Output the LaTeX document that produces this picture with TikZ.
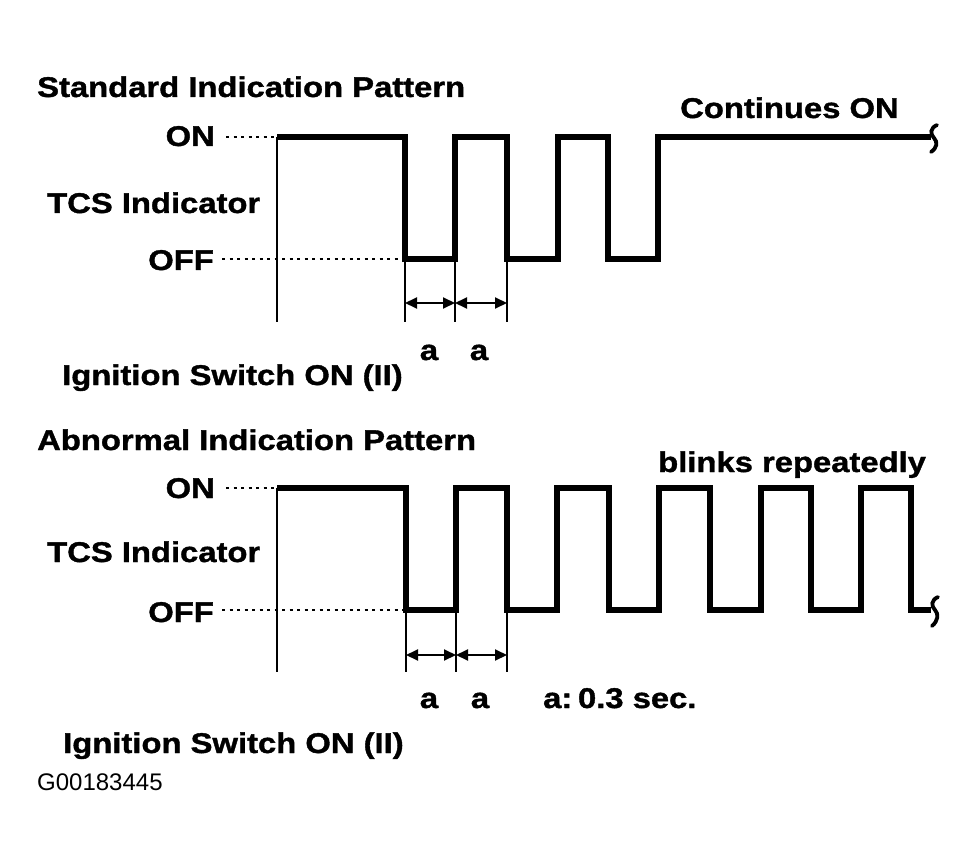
\documentclass[tikz,border=0pt]{standalone}
\usepackage{fontspec}
\setmainfont{Liberation Sans}[FakeStretch=1.15, BoldFeatures={FakeBold=1.3}]
\newfontfamily\codefont{Liberation Sans}
\usetikzlibrary{arrows.meta}
\tikzset{
  lbl/.style={inner sep=0pt, font=\fontsize{28.5}{30}\selectfont\bfseries},
  wave/.style={line width=5.2pt, line join=miter, line cap=butt},
  thin/.style={line width=1.7pt},
  dots/.style={line width=1.3pt, dash pattern=on 3pt off 4.5pt},
  dim/.style={line width=2pt, {Triangle[length=12pt,width=11pt]}-{Triangle[length=12pt,width=11pt]}},
  squig/.style={line width=3.8pt, line cap=round}
}
\begin{document}
\begin{tikzpicture}[x=1pt,y=-1pt]
\useasboundingbox (0,0) rectangle (979,866);
\fill[white] (0,0) rectangle (979,866);

% ---------- Top: Standard pattern ----------
\node[lbl, anchor=base west] (t1) at (37,97) {Standard Indication Pattern};
\node[lbl, anchor=base east] (on1) at (215,146) {ON};
\node[lbl, anchor=base west] (tcs1) at (47,213) {TCS Indicator};
\node[lbl, anchor=base east] (off1) at (214,270) {OFF};
\node[lbl, anchor=base west] (cont) at (680,118) {Continues ON};
\node[lbl, anchor=base] (a1) at (429,360) {a};
\node[lbl, anchor=base] (a2) at (479,360) {a};
\node[lbl, anchor=base west] (ig1) at (62,385) {Ignition Switch ON (II)};

\coordinate (s1) at (277,137);
\coordinate (e1) at (931,137);
\draw[dots] (226,137) -- (s1);
\draw[dots] (222,259) -- (405,259);
\draw[thin] (s1) -- (277,322);
\draw[thin] (405,259) -- (405,322);
\draw[thin] (455,259) -- (455,322);
\draw[thin] (507,259) -- (507,322);
\draw[wave] (s1) -- (405,137) -- (405,259) -- (455,259) -- (455,137) -- (507,137)
  -- (507,259) -- (558,259) -- (558,137) -- (608,137) -- (608,259) -- (658,259)
  -- (658,137) -- (e1);
\draw[squig] (937,125) .. controls (930,128) and (930,134) .. (934,138)
  .. controls (938,142) and (937,148) .. (931,152);
\coordinate (d1) at (405,303);
\coordinate (d2) at (455,303);
\coordinate (d3) at (507,303);
\draw[dim] (d1) -- (d2);
\draw[dim] (d2) -- (d3);

% ---------- Bottom: Abnormal pattern ----------
\node[lbl, anchor=base west] (t2) at (37,450) {Abnormal Indication Pattern};
\node[lbl, anchor=base west] (blink) at (658,472) {blinks repeatedly};
\node[lbl, anchor=base east] (on2) at (215,498) {ON};
\node[lbl, anchor=base west] (tcs2) at (47,562) {TCS Indicator};
\node[lbl, anchor=base east] (off2) at (214,622) {OFF};
\node[lbl, anchor=base] (a3) at (429,708) {a};
\node[lbl, anchor=base] (a4) at (480,708) {a};
\node[lbl, anchor=base west] (note) at (543,708) {a:\hspace{0.2em}0.3 sec.};
\node[lbl, anchor=base west] (ig2) at (63,753) {Ignition Switch ON (II)};
\node[inner sep=0pt, anchor=base west, font=\codefont\fontsize{24}{26}\selectfont] (code) at (37,790) {G00183445};

\coordinate (s2) at (277,488);
\coordinate (e2) at (931,610);
\draw[dots] (226,488) -- (s2);
\draw[dots] (222,610) -- (406,610);
\draw[thin] (s2) -- (277,672);
\draw[thin] (406,610) -- (406,672);
\draw[thin] (456,610) -- (456,672);
\draw[thin] (507,610) -- (507,672);
\draw[wave] (s2) -- (406,488) -- (406,610) -- (456,610) -- (456,488) -- (507,488)
  -- (507,610) -- (557,610) -- (557,488) -- (609,488) -- (609,610) -- (659,610)
  -- (659,488) -- (710,488) -- (710,610) -- (761,610) -- (761,488) -- (811,488)
  -- (811,610) -- (861,610) -- (861,488) -- (911,488) -- (911,610) -- (e2);
\draw[squig] (938,597) .. controls (931,600) and (931,606) .. (935,610)
  .. controls (939,614) and (938,621) .. (932,626);
\coordinate (d4) at (406,655);
\coordinate (d5) at (456,655);
\coordinate (d6) at (507,655);
\draw[dim] (d4) -- (d5);
\draw[dim] (d5) -- (d6);
\end{tikzpicture}
\end{document}
